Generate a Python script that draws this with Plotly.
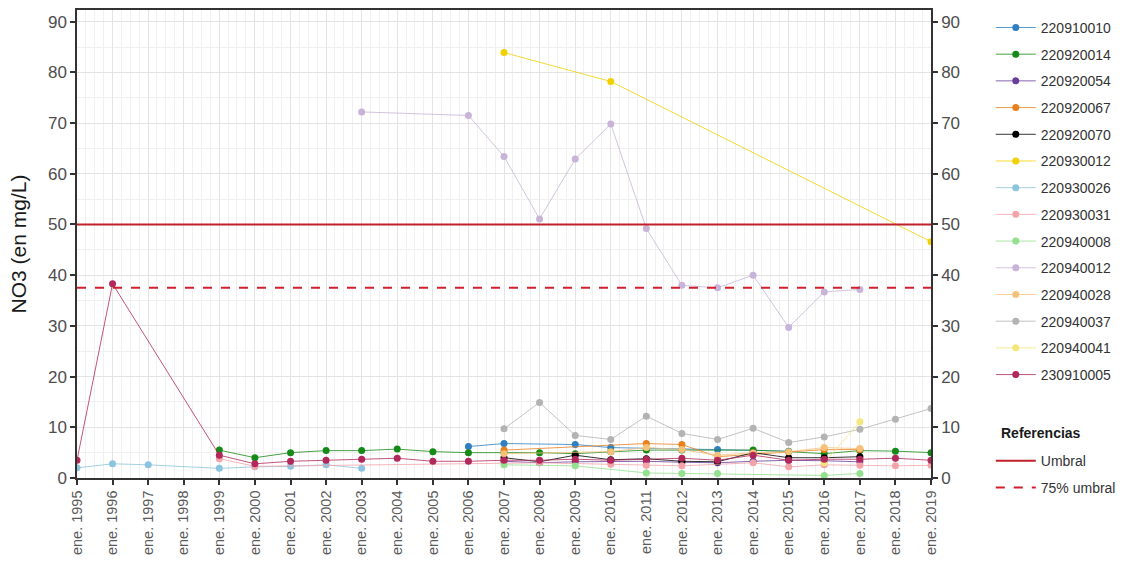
import plotly.graph_objects as go

# Sampling years (January of each year) and NO3 values (mg/L) per station
years_220910010 = [2006, 2007, 2009, 2010, 2013, 2015]
no3_220910010 = [6.2, 6.8, 6.6, 6.0, 5.6, 5.3]

years_220920014 = [1999, 2000, 2001, 2002, 2003, 2004, 2005, 2006, 2007, 2008, 2009, 2010,
                   2011, 2012, 2014, 2015, 2016, 2017, 2018, 2019]
no3_220920014 = [5.5, 4.0, 5.0, 5.4, 5.4, 5.7, 5.2, 5.0, 5.0, 5.0, 4.8, 5.2,
                 5.5, 5.5, 5.5, 5.2, 4.8, 5.4, 5.3, 5.0]

years_220920054 = [2007, 2008, 2009, 2010, 2011, 2012, 2013, 2014, 2015, 2016, 2017]
no3_220920054 = [3.3, 3.0, 3.2, 3.3, 3.3, 3.1, 3.0, 3.3, 3.5, 3.4, 3.2]

years_220920067 = [2007, 2011, 2012, 2013, 2016, 2017]
no3_220920067 = [5.5, 6.8, 6.6, 4.2, 5.6, 5.6]

years_220920070 = [2007, 2008, 2009, 2010, 2011, 2012, 2013, 2014, 2015, 2016, 2017]
no3_220920070 = [4.0, 3.2, 4.5, 3.6, 3.8, 3.3, 3.2, 5.0, 4.0, 4.0, 4.2]

years_220930012 = [2007, 2010, 2019]
no3_220930012 = [83.9, 78.2, 46.6]

years_220930026 = [1995, 1996, 1997, 1999, 2000, 2001, 2002, 2003]
no3_220930026 = [2.0, 2.8, 2.6, 1.9, 2.2, 2.3, 2.6, 1.9]

years_220930031 = [1999, 2000, 2008, 2010, 2011, 2012, 2014, 2015, 2016, 2017, 2018, 2019]
no3_220930031 = [3.8, 2.3, 3.0, 2.7, 2.5, 2.4, 3.0, 2.2, 2.6, 2.5, 2.4, 2.5]

years_220940008 = [2007, 2009, 2011, 2012, 2013, 2016, 2017]
no3_220940008 = [2.6, 2.4, 1.0, 0.9, 0.9, 0.5, 0.9]

years_220940012 = [2003, 2006, 2007, 2008, 2009, 2010, 2011, 2012, 2013, 2014, 2015, 2016, 2017]
no3_220940012 = [72.2, 71.5, 63.4, 51.1, 62.9, 69.8, 49.2, 38.0, 37.5, 40.0, 29.7, 36.7, 37.2]

years_220940028 = [2007, 2010, 2011, 2012, 2013, 2014, 2015, 2016, 2017]
no3_220940028 = [4.8, 5.2, 6.0, 5.6, 4.5, 5.0, 5.2, 6.0, 5.8]

years_220940037 = [2007, 2008, 2009, 2010, 2011, 2012, 2013, 2014, 2015, 2016, 2017, 2018, 2019]
no3_220940037 = [9.7, 14.9, 8.4, 7.6, 12.2, 8.8, 7.6, 9.8, 7.0, 8.1, 9.6, 11.6, 13.7]

years_220940041 = [2016, 2017]
no3_220940041 = [3.0, 11.1]

years_230910005 = [1995, 1996, 1999, 2000, 2001, 2002, 2003, 2004, 2005, 2006, 2007, 2008, 2009,
                   2010, 2011, 2012, 2013, 2014, 2015, 2016, 2017, 2018, 2019]
no3_230910005 = [3.5, 38.3, 4.5, 2.8, 3.3, 3.5, 3.7, 3.9, 3.3, 3.3, 3.5, 3.5, 3.7,
                 3.5, 3.7, 3.9, 3.5, 4.5, 3.5, 3.7, 3.7, 3.9, 3.5]

station_ids = ["220910010", "220920014", "220920054", "220920067", "220920070",
               "220930012", "220930026", "220930031", "220940008", "220940012",
               "220940028", "220940037", "220940041", "230910005"]

station_colors = ["#2f7fc1", "#168a16", "#6a3d9a", "#e8801e", "#000000",
                  "#f0d000", "#8cc4e0", "#f4a3a8", "#93e08e", "#c8b4d8",
                  "#f6c27a", "#b3b3b3", "#f5e67a", "#b2285a"]

station_years = [years_220910010, years_220920014, years_220920054, years_220920067,
                 years_220920070, years_220930012, years_220930026, years_220930031,
                 years_220940008, years_220940012, years_220940028, years_220940037,
                 years_220940041, years_230910005]
station_values = [no3_220910010, no3_220920014, no3_220920054, no3_220920067,
                  no3_220920070, no3_220930012, no3_220930026, no3_220930031,
                  no3_220940008, no3_220940012, no3_220940028, no3_220940037,
                  no3_220940041, no3_230910005]

# Reference thresholds
umbral = 50.0
umbral_75 = 37.5

# Axis ticks
tick_years = list(range(1995, 2020))
tick_labels = [f"ene. {y}" for y in tick_years]


def jan(y):
    return f"{y}-01-01"


fig = go.Figure()

# each station in its own legend group so the group gap spaces the entries
for sid, col, yrs, vals in zip(station_ids, station_colors, station_years, station_values):
    fig.add_trace(go.Scatter(
        x=[jan(y) for y in yrs], y=vals, name=sid,
        mode="lines+markers",
        line=dict(color=col, width=0.8),
        marker=dict(color=col, size=7),
        legendgroup=sid, legend="legend",
    ))

x_ends = [jan(tick_years[0]), jan(tick_years[-1])]
fig.add_trace(go.Scatter(
    x=x_ends, y=[umbral, umbral], name="Umbral", mode="lines",
    line=dict(color="#c0202a", width=2),
    legendgroup="umbral", legend="legend2",
))
fig.add_trace(go.Scatter(
    x=x_ends, y=[umbral_75, umbral_75], name="75% umbral", mode="lines",
    line=dict(color="#d0202e", width=2, dash="dash"),
    legendgroup="umbral75", legend="legend2",
))
# secondary axis carrying the mirrored tick labels on the right
fig.add_trace(go.Scatter(
    x=x_ends, y=[umbral, umbral], yaxis="y2", mode="lines",
    line=dict(color="rgba(0,0,0,0)", width=0), showlegend=False, hoverinfo="skip",
))

y_range = [0, 92.3]
base_font = "Liberation Sans, Arial, sans-serif"
tick_font = dict(family=base_font, size=17, color="#4d4d4d")
legend_font = dict(family=base_font, size=14, color="#333333")

fig.update_layout(
    width=1129, height=567,
    margin=dict(l=77, r=194, t=8, b=89),
    paper_bgcolor="white",
    plot_bgcolor="white",
    font=dict(family=base_font, color="#1a1a1a"),
    xaxis=dict(
        type="date",
        range=x_ends,
        tickvals=[jan(y) for y in tick_years],
        ticktext=tick_labels,
        tickangle=-90,
        tickfont=dict(family=base_font, size=14.5, color="#5a5a5a"),
        ticks="outside", ticklen=5, tickwidth=1.5, tickcolor="#333333",
        showline=True, linecolor="#333333", linewidth=1.5, mirror=True,
        showgrid=True, gridcolor="#e4e4e4", gridwidth=1,
        minor=dict(dtick="M3", showgrid=True, gridcolor="#f0f0f0", gridwidth=1),
        zeroline=False,
    ),
    yaxis=dict(
        range=y_range,
        tickvals=list(range(0, 91, 10)),
        tickfont=tick_font,
        ticks="outside", ticklen=5, tickwidth=1.5, tickcolor="#333333",
        showline=True, linecolor="#333333", linewidth=1.5,
        showgrid=True, gridcolor="#e4e4e4", gridwidth=1,
        minor=dict(dtick=5, showgrid=True, gridcolor="#f0f0f0", gridwidth=1),
        zeroline=False,
        title=dict(text="NO3 (en mg/L)", font=dict(size=21, color="#1a1a1a"), standoff=16),
    ),
    yaxis2=dict(
        range=y_range,
        overlaying="y", side="right",
        tickvals=list(range(0, 91, 10)),
        tickfont=tick_font,
        ticks="outside", ticklen=5, tickwidth=1.5, tickcolor="#333333",
        showline=True, linecolor="#333333", linewidth=1.5,
        showgrid=False, zeroline=False,
    ),
    legend=dict(
        x=1.07, y=0.996, xanchor="left", yanchor="top",
        font=legend_font, itemwidth=40,
        tracegroupgap=5.5,
        bgcolor="rgba(0,0,0,0)",
    ),
    legend2=dict(
        x=1.07, y=0.0702, xanchor="left", yanchor="top",
        font=legend_font, itemwidth=40,
        tracegroupgap=5.5,
        bgcolor="rgba(0,0,0,0)",
    ),
    annotations=[dict(
        text="<b>Referencias</b>", xref="paper", yref="paper",
        x=(1003 - 77) / 858, y=(478 - 433) / 470, xanchor="left", yanchor="middle",
        showarrow=False, font=dict(family=base_font, size=14, color="#1a1a1a"),
    )],
    showlegend=True,
)

fig.write_html("out.html")
